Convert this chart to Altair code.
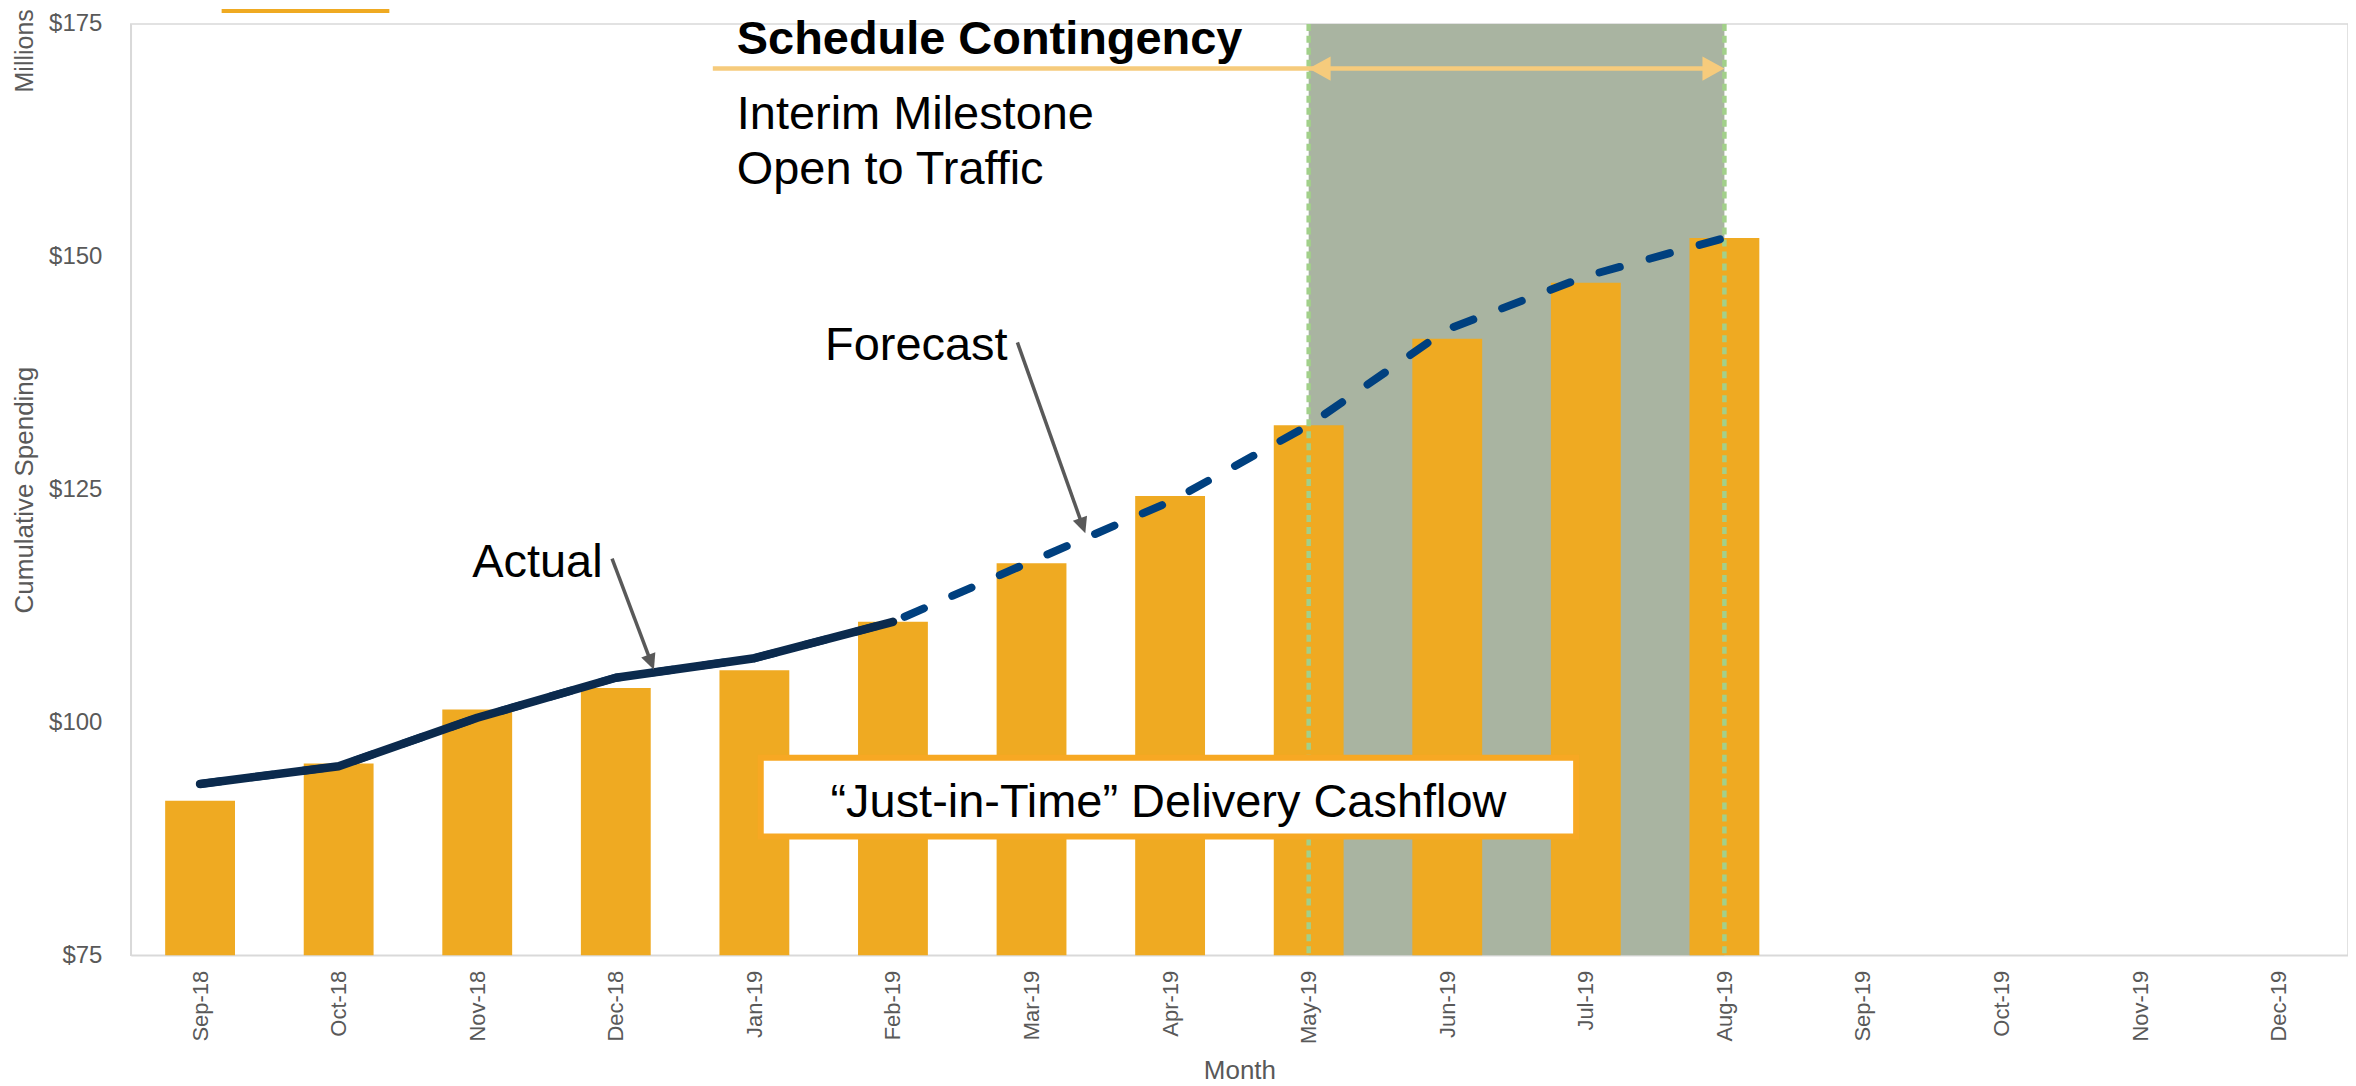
import json
import math
import altair as alt
import pandas as pd

# ---------------- data ----------------
months = ["Sep-18", "Oct-18", "Nov-18", "Dec-18", "Jan-19", "Feb-19", "Mar-19", "Apr-19",
          "May-19", "Jun-19", "Jul-19", "Aug-19", "Sep-19", "Oct-19", "Nov-19", "Dec-19"]
cashflow = [91.6, 95.6, 101.4, 103.7, 105.6, 110.8, 117.1, 124.3, 131.9, 141.2, 147.2, 152.0]
actual = [93.4, 95.3, 100.5, 104.8, 106.9, 110.8]
forecast = [93.4, 95.3, 100.5, 104.8, 106.9, 110.8, 117.3, 123.7, 131.9, 142.2, 147.9, 152.0]
y_ticks = [75, 100, 125, 150, 175]
y_domain = [75, 175]

contingency = ["May-19", "Aug-19"]

# annotation anchors in data units (month index, $ millions)
note_text = ["Actual", "Forecast", "Interim Milestone", "Open to Traffic"]
note_x = [1.964, 4.51, 3.873, 3.873]
note_y = [115.6, 138.9, 163.7, 157.85]
title_text = ["Schedule Contingency"]
title_x = [3.873]
title_y = [171.8]
box_text = ["\u201cJust-in-Time\u201d Delivery Cashflow"]
box_x = [4.046, 9.93]
box_y = [87.75, 96.2]
box_text_y = [89.9]
arrow_start = [(2.973, 117.6), (5.898, 140.8)]
arrow_tip = [(3.275, 105.65), (6.388, 120.3)]
span_start_x = [3.70]
span_y = [170.2]

# ---------------- style ----------------
W, H = 2221, 933
PX_X = W / len(months)
PX_Y = H / (y_domain[1] - y_domain[0])
BAR = "#EFAA22"
SHADE = "#A9B4A1"
DOT = "#A2D08A"
SPAN = "#F6CB7C"
BOXC = "#F7A823"
FCAST = "#00407F"
ACT = "#0B2A4D"
GREY = "#595959"
FONT = "Liberation Sans"
BAR_HALF = 0.252

xs = alt.Scale(domain=[-0.5, len(months) - 0.5], nice=False, zero=False)
ys = alt.Scale(domain=y_domain, nice=False, zero=False)

x_axis = alt.Axis(
    values=list(range(len(months))),
    labelExpr=json.dumps(months) + "[datum.value]",
    labelAngle=-90, labelFontSize=22, labelColor=GREY, labelFont=FONT,
    labelPadding=15, labelFlush=False, labelOverlap=False,
    ticks=False, tickSize=0, grid=False, domainColor="#D9D9D9", domainWidth=1.5,
    title="Month", titleFontSize=26, titleFont=FONT, titleColor=GREY,
    titleFontWeight="normal", titleY=115, titleBaseline="middle",
)
y_axis = alt.Axis(
    values=y_ticks, labelExpr="'$' + datum.value",
    labelFontSize=24, labelColor=GREY, labelFont=FONT, labelPadding=29,
    ticks=False, tickSize=0, grid=False, domainColor="#D9D9D9", domainWidth=1.5,
    title="Cumulative Spending", titleFontSize=26, titleFont=FONT, titleColor=GREY,
    titleFontWeight="normal", titleAngle=270, titleX=-98, titleY=H / 2,
    titleAlign="center", titleBaseline="alphabetic",
)


def X(field):
    return alt.X(field, scale=xs, axis=x_axis)


def Y(field):
    return alt.Y(field, scale=ys, axis=y_axis)


# shaded contingency
shade_df = pd.DataFrame({"x0": [months.index(contingency[0])], "x1": [months.index(contingency[1])],
                         "y0": [y_domain[0]], "y1": [y_domain[1]]})
shade = alt.Chart(shade_df).mark_rect(color=SHADE, opacity=1).encode(
    x=X("x0:Q"), x2="x1:Q", y=Y("y0:Q"), y2="y1:Q",
)

# bars
bar_df = pd.DataFrame({"idx": list(range(len(cashflow))), "month": months[:len(cashflow)], "value": cashflow})
bars = alt.Chart(bar_df).transform_calculate(
    x0=f"datum.idx - {BAR_HALF}", x1=f"datum.idx + {BAR_HALF}", base=str(y_domain[0])
).mark_rect(color=BAR).encode(
    x=X("x0:Q"), x2="x1:Q", y=Y("value:Q"), y2="base:Q",
)

# dotted boundaries
dot_df = pd.DataFrame({"idx": [months.index(m) for m in contingency]})
dots = alt.Chart(dot_df).mark_rule(color=DOT, strokeWidth=4.5, strokeDash=[7, 5]).encode(
    x=X("idx:Q")
)

# lines
fc_df = pd.DataFrame({"idx": list(range(len(forecast))), "value": forecast})
fc_line = alt.Chart(fc_df).mark_line(color=FCAST, strokeWidth=8, strokeDash=[21, 31],
                                     strokeCap="round").encode(
    x=X("idx:Q"), y=Y("value:Q")
)
ac_df = pd.DataFrame({"idx": list(range(len(actual))), "value": actual})
ac_line = alt.Chart(ac_df).mark_line(color=ACT, strokeWidth=8.5, strokeCap="round",
                                     strokeJoin="round").encode(
    x=X("idx:Q"), y=Y("value:Q")
)

# just-in-time box
box_df = pd.DataFrame({"x0": [box_x[0]], "x1": [box_x[1]], "y0": [box_y[0]], "y1": [box_y[1]],
                       "tx": [sum(box_x) / 2], "ty": box_text_y, "text": box_text})
box = alt.Chart(box_df).mark_rect(fill="white", stroke=BOXC, strokeWidth=6).encode(
    x=X("x0:Q"), x2="x1:Q", y=Y("y0:Q"), y2="y1:Q",
)
box_lbl = alt.Chart(box_df).mark_text(font=FONT, fontSize=47, color="black", align="center",
                                      baseline="alphabetic").encode(
    x=X("tx:Q"), y=Y("ty:Q"), text="text:N"
)

# notes
note_df = pd.DataFrame({"x": note_x, "y": note_y, "text": note_text})
notes = alt.Chart(note_df).mark_text(font=FONT, fontSize=47, color="black", align="left",
                                     baseline="alphabetic").encode(
    x=X("x:Q"), y=Y("y:Q"), text="text:N"
)
title_df = pd.DataFrame({"x": title_x, "y": title_y, "text": title_text})
title_note = alt.Chart(title_df).mark_text(font=FONT, fontSize=47, fontWeight="bold", color="black",
                                           align="left", baseline="alphabetic").encode(
    x=X("x:Q"), y=Y("y:Q"), text="text:N"
)


def arrow_frames(starts, tips, head_len):
    rules, heads = [], []
    for (x0, y0), (x1, y1) in zip(starts, tips):
        dx = (x1 - x0) * PX_X
        dy = -(y1 - y0) * PX_Y
        length = math.hypot(dx, dy)
        ang = math.degrees(math.atan2(dx, -dy)) % 360
        back = head_len * 0.7 / length
        rules.append({"x": x0, "y": y0, "x2": x1 - (x1 - x0) * back, "y2": y1 - (y1 - y0) * back})
        heads.append({"x": x1, "y": y1, "angle": ang})
    return pd.DataFrame(rules), pd.DataFrame(heads)


GHEAD = 16
g_rules, g_heads = arrow_frames(arrow_start, arrow_tip, GHEAD)
g_rule = alt.Chart(g_rules).mark_rule(color=GREY, strokeWidth=3.5).encode(
    x=X("x:Q"), x2="x2:Q", y=Y("y:Q"), y2="y2:Q",
)
g_head = alt.Chart(g_heads).mark_point(shape="M0,0 L0.47,1 L-0.47,1 Z", filled=True, opacity=1,
                                       size=(2 * GHEAD) ** 2, color=GREY, strokeWidth=0).encode(
    x=X("x:Q"), y=Y("y:Q"), angle=alt.Angle("angle:Q", scale=None),
)

# double-headed contingency span
SHEAD = 22
i0, i1 = months.index(contingency[0]), months.index(contingency[1])
span_df = pd.DataFrame({"x": span_start_x, "x2": [i1 - SHEAD * 0.6 / PX_X], "y": span_y})
span = alt.Chart(span_df).mark_rule(color=SPAN, strokeWidth=4.5).encode(
    x=X("x:Q"), x2="x2:Q", y=Y("y:Q")
)
shead_df = pd.DataFrame({"x": [i0, i1], "y": span_y * 2, "angle": [270, 90]})
span_heads = alt.Chart(shead_df).mark_point(shape="M0,0 L0.55,1 L-0.55,1 Z", filled=True, opacity=1,
                                            size=(2 * SHEAD) ** 2, color=SPAN, strokeWidth=0).encode(
    x=X("x:Q"), y=Y("y:Q"), angle=alt.Angle("angle:Q", scale=None),
)

# display-unit label and clipped legend swatch
unit_df = pd.DataFrame({"text": ["Millions"]})
unit = alt.Chart(unit_df).mark_text(font=FONT, fontSize=25, color=GREY, angle=270, align="center",
                                    baseline="alphabetic").encode(
    x=alt.value(-98), y=alt.value(27), text="text:N"
)
swatch = alt.Chart(unit_df).mark_rect(color=BAR).encode(
    x=alt.value(91), x2=alt.value(259), y=alt.value(-15), y2=alt.value(-11)
)

chart = alt.layer(
    shade, bars, dots, fc_line, ac_line, box, box_lbl, notes, title_note,
    g_rule, g_head, span, span_heads, unit, swatch,
).properties(
    width=W, height=H,
    padding={"left": 123, "top": 15, "right": 0, "bottom": 130},
    autosize=alt.AutoSizeParams(type="none"),
    background="white",
).configure_view(stroke="#D9D9D9", strokeWidth=1.5)

chart.save("out.html", embed_options={"renderer": "svg", "actions": False})
